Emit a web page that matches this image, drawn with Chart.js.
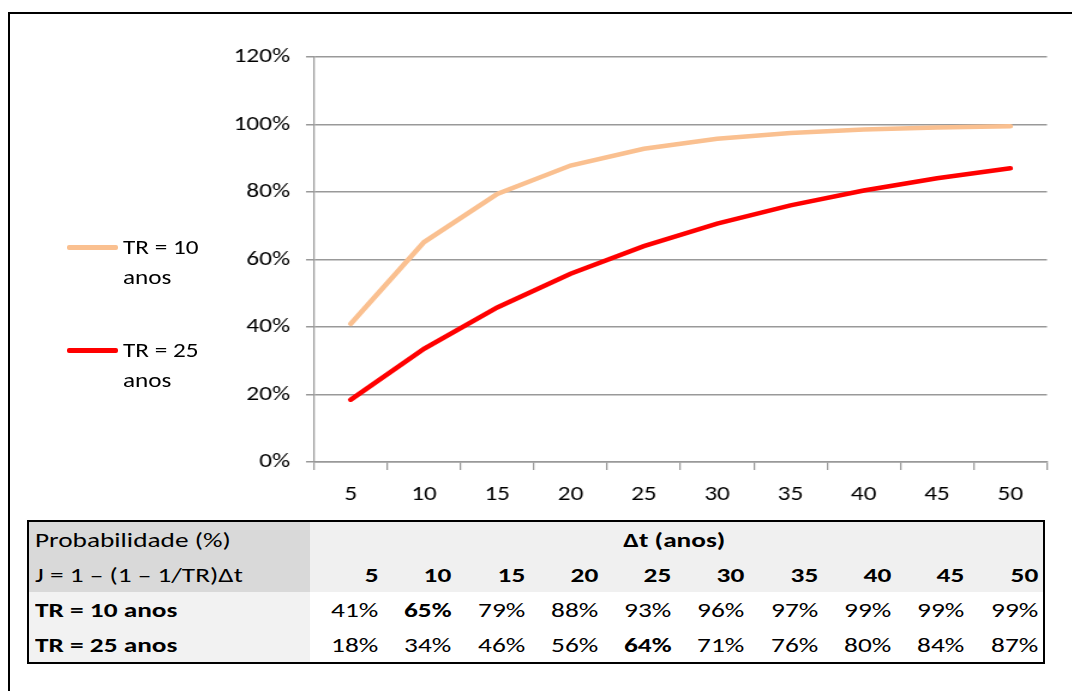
<!DOCTYPE html>
<html>
<head>
<meta charset="utf-8">
<script src="https://cdn.jsdelivr.net/npm/chart.js@4"></script>
<style>
  body { margin: 0; background: #fff; font-family: Carlito, Lato, sans-serif; }
  #frame { position: absolute; left: 8px; top: 12px; width: 1100px; height: 700px; border: 2px solid #000; }
  /* the original picture is stretched sideways, so the chart is too */
  #chartBox { position: absolute; left: 0; top: 0; height: 520px; transform-origin: 0 0; }
  .leg { position: absolute; font-size: 21px; line-height: 30px; color: #000; }
  .leg i { position: absolute; left: -56px; top: 13px; width: 51px; height: 5px; border-radius: 2px; }
  .leg span { display: inline-block; transform: scaleX(1.2); transform-origin: 0 50%; }
  #tbl { position: absolute; left: 27px; top: 520px; border-collapse: collapse; border: 2px solid #000; font-size: 21px; color: #000; table-layout: fixed; }
  #tbl td { padding: 0 5px 0 0; height: 35px; text-align: right; white-space: nowrap; }
  #tbl td span { display: inline-block; transform: scaleX(1.3); transform-origin: 100% 50%; }
  #tbl td.first { width: 270px; text-align: left; padding-left: 6px; }
  #tbl td.first span { transform-origin: 0 50%; }
  #tbl td.mid { text-align: center; }
  #tbl td.mid span { transform-origin: 50% 50%; }
  #tbl td.num { width: 68.3px; }
</style>
</head>
<body>
<div id="frame"></div>
<div id="chartBox"><canvas id="lineChart"></canvas></div>
<div id="legend"></div>
<table id="tbl"><colgroup id="cols"></colgroup></table>
<script>
let periods = [5, 10, 15, 20, 25, 30, 35, 40, 45, 50];
let yTicks = [0, 0.2, 0.4, 0.6, 0.8, 1.0, 1.2];
let tr10 = [0.4095, 0.6513, 0.7941, 0.8784, 0.9282, 0.9576, 0.9749, 0.9852, 0.9913, 0.9948];
let tr25 = [0.1846, 0.3352, 0.4579, 0.5580, 0.6396, 0.7061, 0.7604, 0.8046, 0.8407, 0.8701];
let seriesNames = ["TR = 10 anos", "TR = 25 anos"];
let seriesColors = ["#FAC090", "#FF0000"];
let boldPeriod = [10, 25];

let stretch = 1.2;
let box = document.getElementById("chartBox");
box.style.width = (1072 / stretch) + "px";
box.style.transform = "scaleX(" + stretch + ")";

let chart = document.getElementById("lineChart");
let font = { family: "Carlito, Lato, sans-serif", size: 21 };

function getDatasets(){
  let sets = [];
  let all = [tr10, tr25];
  for(let i=0; i<all.length; i++){
    sets.push({
      label: seriesNames[i],
      data: all[i],
      borderColor: seriesColors[i],
      backgroundColor: seriesColors[i],
      borderWidth: 4.5,
      pointRadius: 0,
      tension: 0,
      borderCapStyle: "round"
    });
  }
  return sets;
}

new Chart(chart, {
  type: "line",
  data: { labels: periods, datasets: getDatasets() },
  options: {
    responsive: true,
    maintainAspectRatio: false,
    animation: false,
    layout: { padding: { left: (314 - 84) / stretch, right: 25 / stretch, top: 57, bottom: 0 } },
    plugins: { legend: { display: false }, tooltip: { enabled: false } },
    scales: {
      x: {
        offset: true,
        grid: { display: true, drawOnChartArea: false, drawTicks: true, tickLength: 8, offset: true, color: "#999", lineWidth: 1.5 / stretch },
        border: { color: "#999", width: 1.5 },
        ticks: { font: font, color: "#000", padding: 12, maxRotation: 0 },
        afterFit: function(s){ s.height = 58; }
      },
      y: {
        min: 0, max: 1.2,
        afterBuildTicks: function(s){ s.ticks = yTicks.map(v => ({ value: v })); },
        grid: { color: "#999", lineWidth: 1.5, tickLength: 8 / stretch },
        border: { color: "#999", width: 1.5 / stretch },
        ticks: { font: font, color: "#000", padding: 16 / stretch, callback: v => Math.round(v*100) + "%" },
        afterFit: function(s){ s.width = 84 / stretch; }
      }
    }
  }
});

// legend on the left, text wraps like the original
let legend = document.getElementById("legend");
let legTops = [232, 335];
for(let i=0; i<seriesNames.length; i++){
  let d = document.createElement("div");
  d.className = "leg";
  d.style.left = "123px";
  d.style.top = legTops[i] + "px";
  let parts = seriesNames[i].split(" anos");
  d.innerHTML = '<i style="background:' + seriesColors[i] + '"></i><span>' + parts[0] + "</span><br><span>anos</span>";
  legend.appendChild(d);
}

// data table under the chart
let tbl = document.getElementById("tbl");
let cols = document.getElementById("cols");
let firstCol = document.createElement("col");
firstCol.style.width = "281px";
cols.appendChild(firstCol);
for(let i=0; i<periods.length; i++){
  let c = document.createElement("col");
  c.style.width = "73.3px";
  cols.appendChild(c);
}

function addRow(cells, bg1, bg2){
  let tr = document.createElement("tr");
  for(let i=0; i<cells.length; i++){
    let td = document.createElement("td");
    td.className = i === 0 ? "first" : "num";
    td.style.background = i === 0 ? bg1 : bg2;
    if(cells[i].bold) td.style.fontWeight = "bold";
    if(cells[i].span){ td.colSpan = cells[i].span; td.className = "mid"; }
    let sp = document.createElement("span");
    sp.textContent = cells[i].text;
    td.appendChild(sp);
    tr.appendChild(td);
  }
  tbl.appendChild(tr);
}
addRow([{ text: "Probabilidade (%)" }, { text: "Δt (anos)", bold: true, span: 10 }], "#D9D9D9", "#F0F0F0");
addRow([{ text: "J = 1 – (1 – 1/TR)Δt" }].concat(periods.map(p => ({ text: String(p), bold: true }))), "#D9D9D9", "#F0F0F0");
let rows = [tr10, tr25];
for(let r=0; r<rows.length; r++){
  let cells = [{ text: seriesNames[r], bold: true }];
  for(let i=0; i<periods.length; i++){
    cells.push({ text: Math.round(rows[r][i]*100) + "%", bold: periods[i] === boldPeriod[r] });
  }
  addRow(cells, "#F2F2F2", "#FFFFFF");
}
</script>
</body>
</html>
